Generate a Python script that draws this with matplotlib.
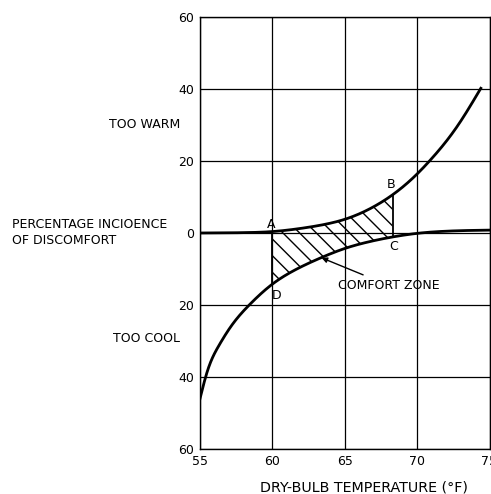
import matplotlib
matplotlib.use("Agg")
import matplotlib.pyplot as plt
import numpy as np

# Data
warm_temp = [55, 58, 60, 62, 63.5, 65, 67, 68.3, 70, 70.9, 72.8, 74.4]
warm_pct = [0.0, 0.1, 0.4, 1.3, 2.3, 3.8, 7.3, 10.6, 16.4, 20.2, 29.8, 40.2]
cool_temp = [55, 55.5, 56.3, 57.2, 58.4, 60, 61.5, 63.4, 65, 66.5, 68.3, 70, 72, 75]
cool_pct = [46.0, 38.5, 31.3, 25.6, 20.0, 14.2, 10.4, 6.8, 4.3, 2.6, 1.1, 0.1, -0.5, -0.8]
zone_left, zone_right = 60.0, 68.3
x_ticks = [55, 60, 65, 70, 75]
y_ticks = [60, 40, 20, 0, -20, -40, -60]
y_tick_labels = ["60", "40", "20", "0", "20", "40", "60"]

font = "DejaVu Sans"
fs = 9


def spline(x, y, n=600):
    """Natural cubic spline through the read points."""
    x = np.asarray(x, float); y = np.asarray(y, float)
    N = len(x); h = np.diff(x)
    A = np.zeros((N, N)); r = np.zeros(N)
    A[0, 0] = 1; A[-1, -1] = 1
    for i in range(1, N - 1):
        A[i, i-1] = h[i-1]; A[i, i] = 2*(h[i-1] + h[i]); A[i, i+1] = h[i]
        r[i] = 6*((y[i+1]-y[i])/h[i] - (y[i]-y[i-1])/h[i-1])
    M = np.linalg.solve(A, r)
    xs = np.linspace(x[0], x[-1], n)
    k = np.clip(np.searchsorted(x, xs, side='right') - 1, 0, N - 2)
    hk = h[k]; a = x[k+1] - xs; b = xs - x[k]
    ys = (M[k]*a**3 + M[k+1]*b**3)/(6*hk) + (y[k]/hk - M[k]*hk/6)*a + (y[k+1]/hk - M[k+1]*hk/6)*b
    return xs, ys


fig = plt.figure(figsize=(4.91, 4.94), dpi=100)
ax = fig.add_axes([200/491, 45/494, 289.5/491, 432/494])

wxs, wys = spline(warm_temp, warm_pct)
cxs, cys = spline(cool_temp, -np.array(cool_pct))

ax.grid(True, color="black", linewidth=0.9)
ax.set_axisbelow(True)

ax.plot(wxs, wys, color="black", linewidth=2.0, zorder=3)
ax.plot(cxs, cys, color="black", linewidth=2.0, zorder=3)

# hatched comfort zone
zx = np.linspace(zone_left, zone_right, 200)
top = np.interp(zx, wxs, wys)
bot = np.interp(zx, cxs, cys)
ax.fill_between(zx, bot, top, facecolor="none", edgecolor="black", hatch="\\\\", linewidth=0, zorder=2)
ax.plot([zone_left, zone_left], [np.interp(zone_left, wxs, wys), np.interp(zone_left, cxs, cys)],
        color="black", linewidth=1.3, zorder=3)
ax.plot([zone_right, zone_right], [np.interp(zone_right, wxs, wys), np.interp(zone_right, cxs, cys)],
        color="black", linewidth=1.3, zorder=3)

ax.set_xlim(55, 75)
ax.set_ylim(-60, 60)
ax.set_xticks(x_ticks)
ax.set_yticks(y_ticks)
ax.set_yticklabels(y_tick_labels)
ax.tick_params(length=0, pad=4, labelsize=fs)
for lab in ax.get_xticklabels() + ax.get_yticklabels():
    lab.set_fontfamily(font)
for s in ax.spines.values():
    s.set_linewidth(1.0)

# point labels
ax.text(59.9, 0.6, "A", fontsize=fs, ha="center", va="bottom", family=font)
ax.text(68.2, 11.6, "B", fontsize=fs, ha="center", va="bottom", family=font)
ax.text(68.4, -2.0, "C", fontsize=fs, ha="center", va="top", family=font)
ax.text(60.3, -15.6, "D", fontsize=fs, ha="center", va="top", family=font)

ax.annotate("COMFORT ZONE", xy=(63.4, -6.9), xytext=(64.5, -14.5),
            fontsize=fs, family=font, ha="left", va="center",
            arrowprops=dict(arrowstyle="-|>", color="black", lw=1.0,
                            shrinkA=2, shrinkB=0, mutation_scale=8))

fig.text(364/491, 1 - 487/494, "DRY-BULB TEMPERATURE (°F)", fontsize=10.3, family=font,
         ha="center", va="center")

fig.text(180/491, 1 - 125/494, "TOO WARM", fontsize=fs, family=font, ha="right", va="center")
fig.text(12/491, 1 - 232/494, "PERCENTAGE INCIOENCE\nOF DISCOMFORT", fontsize=fs, family=font,
         ha="left", va="center", linespacing=1.3)
fig.text(180/491, 1 - 339/494, "TOO COOL", fontsize=fs, family=font, ha="right", va="center")

fig.savefig("out.png", dpi=100)
